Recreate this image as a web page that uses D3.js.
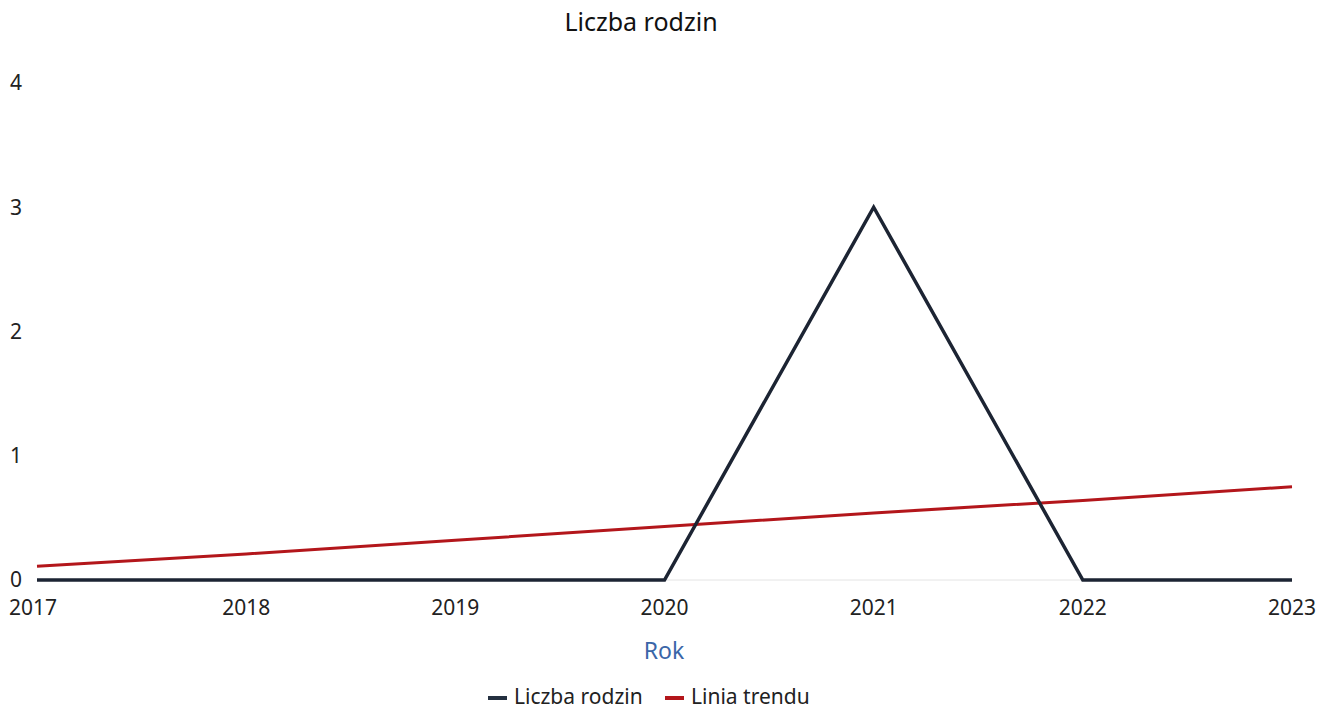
<!DOCTYPE html>
<html><head><meta charset="utf-8">
<script src="https://cdn.jsdelivr.net/npm/d3@7"></script>
<style>body{margin:0;background:#fff;font-family:"Noto Sans",sans-serif;}</style>
</head><body>
<svg id="c" width="1330" height="712"></svg>
<script>
const years = ["2017","2018","2019","2020","2021","2022","2023"];
const families = [0,0,0,0,3,0,0];
const trend = [0.11,0.21,0.32,0.43,0.54,0.64,0.75];
const yTicks = [0,1,2,3,4];

const svg = d3.select("#c");
const x = d3.scalePoint().domain(years).range([37,1292]);
const y = d3.scaleLinear().domain([0,4]).range([580,83]);

svg.append("text").attr("x",641).attr("y",22).attr("dy","0.35em").attr("text-anchor","middle")
  .attr("font-size",25).attr("fill","#111").text("Liczba rodzin");

// baseline
svg.append("line").attr("x1",37).attr("x2",1292).attr("y1",y(0)).attr("y2",y(0))
  .attr("stroke","#e4e4e4").attr("stroke-width",1);

// y labels
svg.selectAll(".yl").data(yTicks).enter().append("text")
  .attr("x",16).attr("y",d=>y(d)).attr("dy","0.35em").attr("text-anchor","middle")
  .attr("font-size",21).attr("fill","#222").text(d=>d);

// x labels
svg.selectAll(".xl").data(years).enter().append("text")
  .attr("x",d=>x(d)-(d==="2017"?4:0)).attr("y",608).attr("dy","0.35em").attr("text-anchor","middle")
  .attr("font-size",21).attr("fill","#222").text(d=>d);

svg.append("text").attr("x",664).attr("y",651).attr("dy","0.35em").attr("text-anchor","middle")
  .attr("font-size",23).attr("fill","#3a66a8").text("Rok");

const line = d3.line().x((d,i)=>x(years[i])).y(d=>y(d));
svg.append("path").datum(trend).attr("d",line).attr("fill","none")
  .attr("stroke","#b3161b").attr("stroke-width",3);
svg.append("path").datum(families).attr("d",line).attr("fill","none")
  .attr("stroke","#1c2433").attr("stroke-width",3.5).attr("stroke-linejoin","miter");

// legend
const legend = [{name:"Liczba rodzin",color:"#243040"},{name:"Linia trendu",color:"#b3161b"}];
const lx = [488, 665];
legend.forEach((l,i)=>{
  svg.append("rect").attr("x",lx[i]).attr("y",696).attr("width",19).attr("height",4).attr("fill",l.color);
  svg.append("text").attr("x",lx[i]+26).attr("y",697).attr("dy","0.35em")
    .attr("font-size",21).attr("fill","#222").text(l.name);
});
</script>
</body></html>
